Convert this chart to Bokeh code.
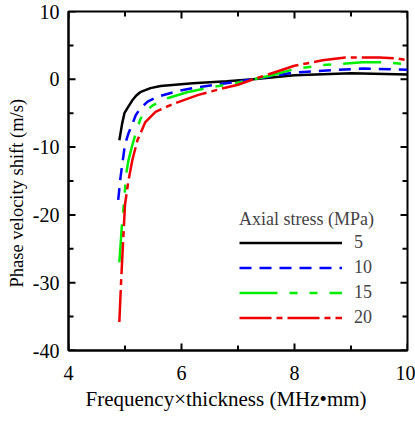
import math
from bokeh.plotting import figure
from bokeh.models import Range1d, FixedTicker, Legend, LegendItem, Title
from bokeh.embed import file_html
from bokeh.resources import INLINE

# Data
x5 = [4.90, 4.95, 4.99, 5.04, 5.13, 5.20, 5.27, 5.45, 5.63, 6.2, 6.8, 7.27, 8.0, 9.0, 10.0]
y5 = [-9.0, -6.5, -5.0, -4.3, -3.1, -2.4, -1.9, -1.3, -1.0, -0.6, -0.3, 0.0, 0.6, 0.9, 0.7]

x10 = [4.88, 4.92, 4.96, 5.00, 5.06, 5.13, 5.19, 5.27, 5.40, 5.57, 5.90, 6.20, 6.70, 7.27, 8.0, 9.2, 10.0]
y10 = [-17.8, -14.5, -12.0, -9.6, -8.0, -6.6, -5.3, -4.3, -3.3, -2.6, -1.8, -1.3, -0.7, 0.0, 1.0, 1.6, 1.4]

x15 = [4.90, 4.95, 4.98, 5.02, 5.06, 5.13, 5.19, 5.27, 5.36, 5.50, 5.75, 6.10, 6.50, 7.00, 7.27, 7.60, 8.0, 8.5, 9.2, 9.6, 10.0]
y15 = [-27.0, -21.0, -18.5, -14.0, -12.0, -9.7, -8.0, -5.9, -4.7, -3.8, -2.8, -1.9, -1.2, -0.5, 0.0, 0.6, 1.5, 2.1, 2.5, 2.5, 2.2]

x20 = [4.90, 4.93, 4.96, 5.00, 5.06, 5.13, 5.22, 5.36, 5.54, 5.75, 5.93, 6.30, 6.70, 7.00, 7.27, 7.60, 8.0, 8.5, 8.9, 9.5, 9.8, 10.0]
y20 = [-35.8, -30.0, -25.0, -18.5, -15.0, -11.9, -9.0, -6.3, -4.8, -4.0, -3.4, -2.3, -1.4, -0.8, 0.0, 0.9, 2.0, 2.8, 3.2, 3.2, 3.1, 2.8]

stress_labels = ["5", "10", "15", "20"]
x_major = [4, 6, 8, 10]
x_minor = [5, 7, 9]
y_major = [-40, -30, -20, -10, 0, 10]
y_minor = [-35, -25, -15, -5, 5]
x_tick_labels = ["4", "6", "8", "10"]
y_tick_labels = ["-40", "-30", "-20", "-10", "0", "10"]
XMIN, XMAX, YMIN, YMAX = 4, 10, -40, 10
x_title = "Frequency×thickness (MHz•mm)"
y_title = "Phase velocity shift (m/s)"

FONT = "Liberation Serif"
FRAME_W, FRAME_H = 339, 339

p = figure(width=415, height=437, output_backend="svg", toolbar_location=None,
           x_range=Range1d(XMIN, XMAX), y_range=Range1d(YMIN, YMAX),
           min_border_left=68, min_border_right=8, min_border_top=11, min_border_bottom=87)
p.grid.visible = False
p.outline_line_color = "black"
p.outline_line_width = 2
p.background_fill_color = "white"
p.border_fill_color = "white"

p.xaxis.ticker = FixedTicker(ticks=x_major)
p.yaxis.ticker = FixedTicker(ticks=y_major)
p.xaxis.major_label_overrides = dict(zip(x_major, x_tick_labels))
p.yaxis.major_label_overrides = dict(zip(y_major, y_tick_labels))

for ax in (p.xaxis[0], p.yaxis[0]):
    ax.axis_line_width = 2
    ax.major_tick_in = 0
    ax.major_tick_out = 0
    ax.minor_tick_in = 0
    ax.minor_tick_out = 0
    ax.major_label_text_font = FONT
    ax.major_label_text_font_size = "20px"
    ax.major_label_text_color = "black"
p.xaxis.major_label_standoff = 15
p.yaxis.major_label_standoff = 9

# inward tick marks drawn as short segments from the frame edges
dx_major = (XMAX - XMIN) * 7 / FRAME_W
dx_minor = (XMAX - XMIN) * 5 / FRAME_W
dy_major = (YMAX - YMIN) * 7 / FRAME_H
dy_minor = (YMAX - YMIN) * 5 / FRAME_H
seg = dict(line_color="black", line_width=2)
for xs, d in ((x_major, dy_major), (x_minor, dy_minor)):
    n = len(xs)
    p.segment(x0=xs, y0=[YMIN] * n, x1=xs, y1=[YMIN + d] * n, **seg)
    p.segment(x0=xs, y0=[YMAX] * n, x1=xs, y1=[YMAX - d] * n, **seg)
for ys, d in ((y_major, dx_major), (y_minor, dx_minor)):
    n = len(ys)
    p.segment(x0=[XMIN] * n, y0=ys, x1=[XMIN + d] * n, y1=ys, **seg)
    p.segment(x0=[XMAX] * n, y0=ys, x1=[XMAX - d] * n, y1=ys, **seg)

r5 = p.line(x5, y5, line_color="black", line_width=2.5)
r10 = p.line(x10, y10, line_color="#0000ff", line_width=2.5, line_dash="12 8")
r15 = p.line(x15, y15, line_color="#00ee00", line_width=2.5, line_dash="38 12 8 12 8 12")
r20 = p.line(x20, y20, line_color="#ee0000", line_width=2.5, line_dash="32 5 6 5")

# axis titles as side-panel titles (aligned to the frame start, offset in pixels)
p.add_layout(Title(text=x_title, align="left", offset=85 - 68, standoff=4,
                   text_font=FONT, text_font_size="21px", text_font_style="normal",
                   text_color="black"), "below")
p.add_layout(Title(text=y_title, align="left", offset=350 - 287, standoff=6,
                   text_font=FONT, text_font_size="18.5px", text_font_style="normal",
                   text_color="black"), "left")

legend = Legend(items=[LegendItem(label=lab, renderers=[r]) for lab, r in
                       zip(stress_labels, (r5, r10, r15, r20))],
                location=(171, 20), title="Axial stress (MPa)",
                title_text_font=FONT, title_text_font_size="18px", title_text_font_style="normal",
                title_standoff=0,
                label_text_font=FONT, label_text_font_size="18px",
                glyph_width=103, glyph_height=25, label_height=25, label_standoff=12,
                spacing=0, padding=0, margin=0, border_line_color=None,
                background_fill_alpha=0)
p.add_layout(legend, "center")

open("out.html", "w").write(file_html(p, INLINE))
